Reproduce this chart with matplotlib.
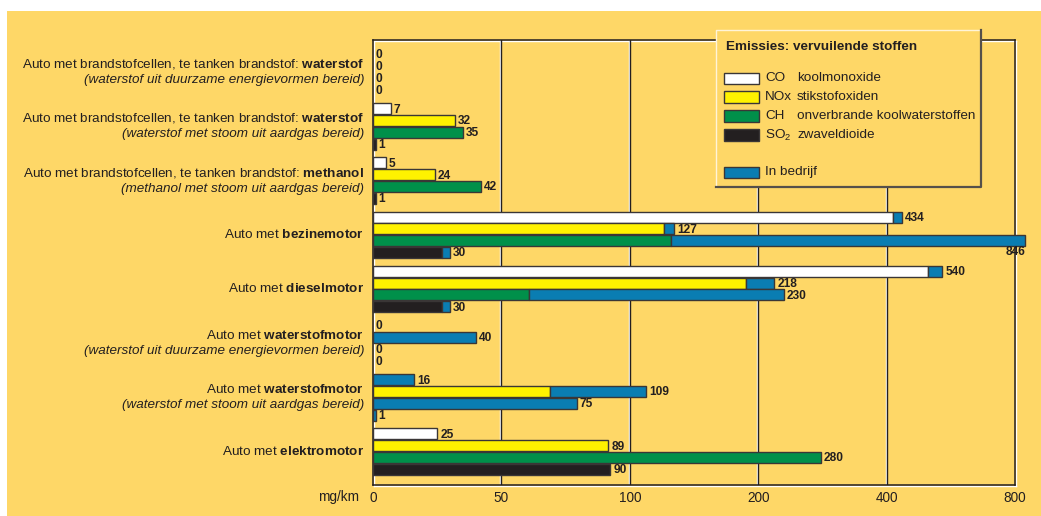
import numpy as np
import matplotlib
matplotlib.use("Agg")
import matplotlib.pyplot as plt
from matplotlib import font_manager
from matplotlib.patches import Rectangle
from matplotlib.lines import Line2D
from matplotlib.transforms import offset_copy

# categories: plain part, bold part, italic second line
label_main = ["Auto met brandstofcellen, te tanken brandstof: ",
              "Auto met brandstofcellen, te tanken brandstof: ",
              "Auto met brandstofcellen, te tanken brandstof: ",
              "Auto met ", "Auto met ", "Auto met ", "Auto met ", "Auto met "]
label_bold = ["waterstof", "waterstof", "methanol", "bezinemotor",
              "dieselmotor", "waterstofmotor", "waterstofmotor", "elektromotor"]
label_note = ["(waterstof uit duurzame energievormen bereid)",
              "(waterstof met stoom uit aardgas bereid)",
              "(methanol met stoom uit aardgas bereid)",
              "", "",
              "(waterstof uit duurzame energievormen bereid)",
              "(waterstof met stoom uit aardgas bereid)",
              ""]

# total emissions in mg/km
co_total = [0, 7, 5, 434, 540, 0, 16, 25]
nox_total = [0, 32, 24, 127, 218, 40, 109, 89]
ch_total = [0, 35, 42, 846, 230, 0, 75, 280]
so2_total = [0, 1, 1, 30, 30, 0, 1, 90]

# part of the total emitted while driving ("in bedrijf")
co_oper = [0, 0, 0, 19, 40, 0, 16, 0]
nox_oper = [0, 0, 0, 7, 31, 40, 44, 0]
ch_oper = [0, 0, 0, 721, 172, 0, 75, 0]
so2_oper = [0, 0, 0, 3, 3, 0, 1, 0]

x_ticks = [0, 50, 100, 200, 400, 800]

W, H = 1041, 516
YELLOW = "#FED767"
DARK = "#231F20"
EDGE = "#3A3636"
BLUE = "#0A7DB2"
colors = ["#FFFFFF", "#FFF200", "#00904A", "#231F20"]

fonts = {f.name for f in font_manager.fontManager.ttflist}
NARROW = "Liberation Sans Narrow" if "Liberation Sans Narrow" in fonts else "Liberation Sans"
num_size = 10 if NARROW != "Liberation Sans" else 8.6
tick_size = 11.8 if NARROW != "Liberation Sans" else 9.8

plt.rcParams["font.family"] = ["Liberation Sans", "DejaVu Sans"]
plt.rcParams["mathtext.fontset"] = "custom"
plt.rcParams["mathtext.rm"] = "Liberation Sans"
plt.rcParams["mathtext.bf"] = "Liberation Sans:bold"
plt.rcParams["mathtext.it"] = "Liberation Sans:italic"


# linear up to 50, then every doubling gets the same width
def fwd(x):
    x = np.asarray(x, float)
    return np.where(x <= 50, x / 50, 1 + np.log2(np.maximum(x, 50) / 50))


def inv(u):
    u = np.asarray(u, float)
    return np.where(u <= 1, u * 50, 50 * 2 ** (np.maximum(u, 1) - 1))


def fx(px):
    return px / W


def fy(py):
    return 1 - py / H


fig = plt.figure(figsize=(W / 100, H / 100), dpi=100, facecolor="white")
fig.add_artist(Rectangle((fx(7), 0), 1, fy(11), transform=fig.transFigure,
                         facecolor=YELLOW, edgecolor="none", zorder=-1))

ax = fig.add_axes([fx(373), fy(485), fx(1015) - fx(373), fy(40) - fy(485)])
ax.set_facecolor("none")
ax.set_xscale("function", functions=(fwd, inv))
ax.set_xlim(0, 800)
STEP = 0.2177
BAR_H = 0.205
ax.set_ylim(7.943, -0.2675)
for s in ax.spines.values():
    s.set_visible(False)
ax.set_yticks([])
ax.set_xticks(x_ticks)
ax.set_xticklabels([str(t) for t in x_ticks], family=NARROW,
                   fontsize=tick_size, color=DARK)
ax.tick_params(axis="x", length=0, pad=4)

# bevelled grid and frame: white line up-left of a dark line
hi = offset_copy(ax.get_xaxis_transform(), fig=fig, x=-1, y=0, units="dots")
for v in x_ticks[1:-1]:
    ax.plot([v, v], [0, 1], transform=hi, color="white", lw=1, zorder=1)
    ax.axvline(v, color=DARK, lw=1, zorder=1.5)
frame = [([0, 0], [0, 1]), ([1, 1], [0, 1]), ([0, 1], [1, 1]), ([0, 1], [0, 0])]
hi_ax = offset_copy(ax.transAxes, fig=fig, x=1, y=-1, units="dots")
for xs, ys in frame:
    ax.plot(xs, ys, transform=hi_ax, color="white", lw=1, clip_on=False, zorder=1)
    ax.plot(xs, ys, transform=ax.transAxes, color=DARK, lw=1.1, clip_on=False, zorder=1.5)

groups = np.arange(8)
series = [(co_total, co_oper), (nox_total, nox_oper), (ch_total, ch_oper), (so2_total, so2_oper)]
lab_tr = offset_copy(ax.transData, fig=fig, x=3, y=-1, units="dots")
for j, (tot, oper) in enumerate(series):
    tot = np.array(tot)
    oper = np.array(oper)
    base = tot - oper
    y = groups + j * STEP
    m = base > 0
    ax.barh(y[m], base[m], left=0, height=BAR_H, color=colors[j], edgecolor=EDGE,
            lw=1, zorder=3, clip_on=False)
    m = oper > 0
    ax.barh(y[m], oper[m], left=base[m], height=BAR_H, color=BLUE, edgecolor=EDGE,
            lw=1, zorder=3, clip_on=False)
    for i, v in enumerate(tot):
        if v > 800:
            ax.text(v, y[i] + STEP, str(v), ha="right", va="center", family=NARROW,
                    weight="bold", fontsize=num_size, color=DARK, clip_on=False)
        else:
            ax.text(v, y[i], str(v), transform=lab_tr, ha="left", va="center",
                    family=NARROW, weight="bold", fontsize=num_size, color=DARK)

# category labels
yax = ax.get_yaxis_transform()
lx = -9 / 642
cat_size = 9.7
for i in range(8):
    yc = i + 1.5 * STEP
    first = label_main[i] + "$\\mathbf{" + label_bold[i] + "}$"
    if label_note[i]:
        ax.text(lx, yc, first, transform=offset_copy(yax, fig=fig, y=8, units="dots"),
                ha="right", va="center", fontsize=cat_size, color=DARK)
        ax.text(lx, yc, label_note[i], transform=offset_copy(yax, fig=fig, y=-8, units="dots"),
                ha="right", va="center", fontsize=cat_size, style="italic", color=DARK)
    else:
        ax.text(lx, yc, first, transform=yax, ha="right", va="center",
                fontsize=cat_size, color=DARK)

fig.text(fx(359), fy(497), "mg/km", ha="right", va="center", family=NARROW,
         fontsize=tick_size, color=DARK)

# legend box
box = Rectangle((fx(716), fy(187)), fx(981) - fx(716), fy(30) - fy(187),
                transform=fig.transFigure, facecolor=YELLOW, edgecolor="none", zorder=5)
fig.add_artist(box)
fig.add_artist(Line2D([fx(716), fx(716), fx(981)], [fy(187), fy(30), fy(30)],
                      transform=fig.transFigure, color="#FFF4D8", lw=1, zorder=6))
fig.add_artist(Line2D([fx(716), fx(981), fx(981)], [fy(187), fy(187), fy(30)],
                      transform=fig.transFigure, color="#55504A", lw=1.6, zorder=6))
fig.text(fx(726), fy(47), "Emissies: vervuilende stoffen", ha="left", va="center",
         weight="bold", fontsize=9.7, color=DARK, zorder=7)
leg_codes = ["CO", "NOx", "CH", "SO$_2$", "In bedrijf"]
leg_names = ["koolmonoxide", "stikstofoxiden", "onverbrande koolwaterstoffen", "zwaveldioide", ""]
leg_colors = colors + [BLUE]
leg_y = [78, 97, 116, 135, 172]
for code, name, c, yy in zip(leg_codes, leg_names, leg_colors, leg_y):
    fig.add_artist(Rectangle((fx(724), fy(yy + 5.5)), fx(759) - fx(724), fy(yy - 5.5) - fy(yy + 5.5),
                             transform=fig.transFigure, facecolor=c, edgecolor=EDGE,
                             lw=1, zorder=7))
    fig.text(fx(765), fy(yy), code, ha="left", va="center", fontsize=9.7, color=DARK, zorder=7)
    if name:
        fig.text(fx(797), fy(yy), name, ha="left", va="center", fontsize=9.7, color=DARK, zorder=7)

fig.savefig("out.png", dpi=100, facecolor=fig.get_facecolor())
